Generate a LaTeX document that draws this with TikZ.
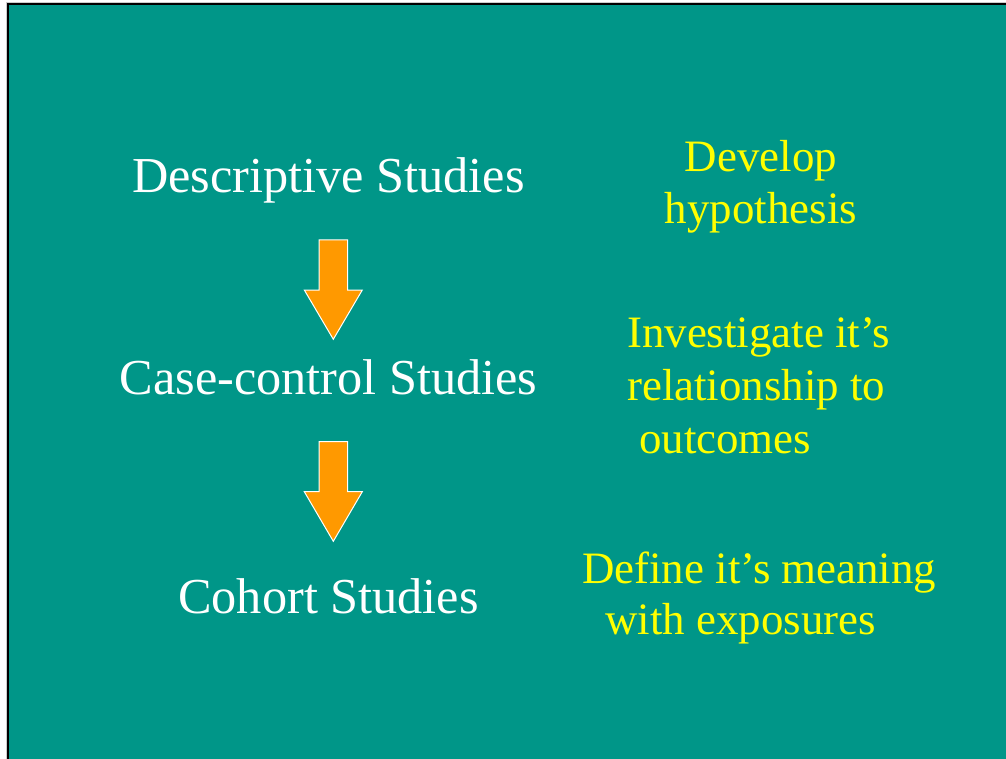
\documentclass[tikz,border=0pt]{standalone}
\usepackage{fontspec}
\setmainfont{Liberation Serif}
\definecolor{bgteal}{RGB}{0,150,136}
\definecolor{arroworange}{RGB}{255,153,0}
\definecolor{txtyellow}{RGB}{255,255,0}
\tikzset{
  mainlabel/.style={anchor=base, inner sep=0pt, text=white, font=\fontsize{50.3}{60}\selectfont},
  sidelabel/.style={anchor=base west, inner sep=0pt, text=txtyellow, font=\fontsize{44.9}{53}\selectfont},
  sidecenter/.style={sidelabel, anchor=base},
  blockarrow/.style={fill=arroworange, draw=white, line width=1pt, line join=miter}
}
\begin{document}
\begin{tikzpicture}[x=1pt, y=-1pt]
\useasboundingbox (0,0) rectangle (1006,759);
% background
\fill[bgteal] (8,4) rectangle (1006,759);
\draw[gray!40, line width=1pt] (6.5,759) -- (6.5,2.5) -- (1006,2.5);
\draw[black, line width=2pt] (8,759) -- (8,4) -- (1006,4);
% left column
\node[mainlabel] (desc) at (328.5,193) {Descriptive Studies};
\node[mainlabel] (case) at (328.5,394) {Case-control Studies};
\node[mainlabel] (coh) at (328.5,613) {Cohort Studies};
% arrows
\draw[blockarrow] (319,240) -- (347.7,240) -- (347.7,290) -- (362.3,290) -- (333.3,339.3) -- (304.3,290) -- (319,290) -- cycle;
\draw[blockarrow] (319,441.7) -- (347.7,441.7) -- (347.7,491.7) -- (362.3,491.7) -- (333.3,541.3) -- (304.3,491.7) -- (319,491.7) -- cycle;
% right column
\node[sidecenter] (dev1) at (761,172) {Develop};
\node[sidecenter] (dev2) at (761,224) {hypothesis};
\node[sidelabel] (inv1) at (627,347) {Investigate it’s};
\node[sidelabel] (inv2) at (627,400) {relationship to};
\node[sidelabel] (inv3) at (639,453) {outcomes};
\node[sidelabel] (def1) at (582,583) {Define it’s meaning};
\node[sidelabel] (def2) at (605,634) {with exposures};
\end{tikzpicture}
\end{document}
